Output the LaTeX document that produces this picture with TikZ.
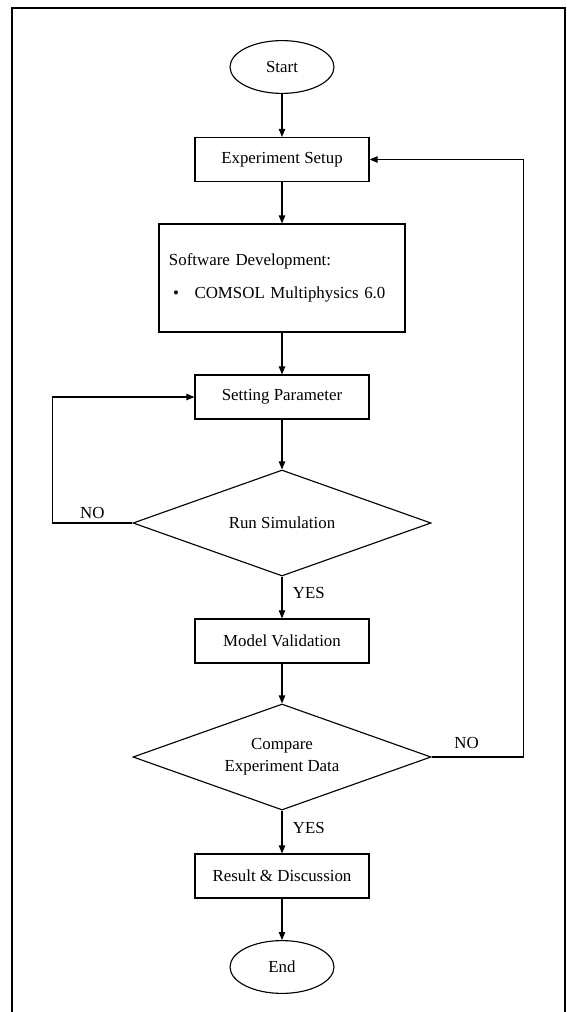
\documentclass[tikz,border=0pt]{standalone}
\usepackage{fontspec}
\setmainfont{Liberation Serif}
\usetikzlibrary{arrows.meta,positioning,shapes.geometric}

\begin{document}
\begin{tikzpicture}[
    x=0.025cm, y=-0.025cm,
    font=\fontsize{12pt}{15.5pt}\selectfont,
    flowbox/.style={draw, line width=0.8pt, minimum width=4.35cm, minimum height=1.1cm, align=center},
    flowterm/.style={draw, ellipse, line width=0.8pt, minimum width=2.6cm, minimum height=1.32cm},
    flowdec/.style={draw, diamond, aspect=2.8, line width=0.8pt, minimum width=7.45cm, minimum height=2.65cm, inner sep=0pt, align=center},
    arrow/.style={-{Triangle[length=2mm,width=1.6mm]}, line width=0.8pt}
  ]
    \useasboundingbox (0,0) rectangle (566,1012);
    % outer frame, open at the bottom
    \draw[line width=1.3pt] (12,1012) -- (12,8) -- (565,8) -- (565,1012);

    \node[flowterm] (start) at (282,67) {Start};
    \node[flowbox] (expsetup) at (282,159.5) {Experiment Setup};
    \node[draw, line width=0.8pt, minimum width=6.15cm, minimum height=2.7cm, text width=5.65cm, align=left] (softdev) at (282,278)
      {Software Development:\\[8.5pt]\hspace*{3pt}\textbullet\hspace{11pt}COMSOL Multiphysics 6.0};
    \node[flowbox] (setpar) at (282,397) {Setting Parameter};
    \node[flowdec] (runsim) at (282,523) {Run Simulation};
    \node[flowbox] (modval) at (282,641) {Model Validation};
    \node[flowdec] (cmpdata) at (282,757) {Compare\\Experiment Data};
    \node[flowbox] (result) at (282,876) {Result \& Discussion};
    \node[flowterm] (endnode) at (282,967) {End};

    \draw[arrow] (start.south) -- (expsetup.north);
    \draw[arrow] (expsetup.south) -- (softdev.north);
    \draw[arrow] (softdev.south) -- (setpar.north);
    \draw[arrow] (setpar.south) -- (runsim.north);
    \draw[arrow] (runsim.south) -- node[right, pos=0.4, xshift=4pt] {YES} (modval.north);
    \draw[arrow] (runsim.west) -- node[above, pos=0.5, yshift=-1pt] {NO} ++(-80,0) |- (setpar.west);
    \draw[arrow] (modval.south) -- (cmpdata.north);
    \draw[arrow] (cmpdata.south) -- node[right, pos=0.4, xshift=4pt] {YES} (result.north);
    \draw[arrow] (cmpdata.east) -- node[above, pos=0.38, yshift=2pt] {NO} ++(92,0) |- (expsetup.east);
    \draw[arrow] (result.south) -- (endnode.north);
  \end{tikzpicture}
\end{document}
